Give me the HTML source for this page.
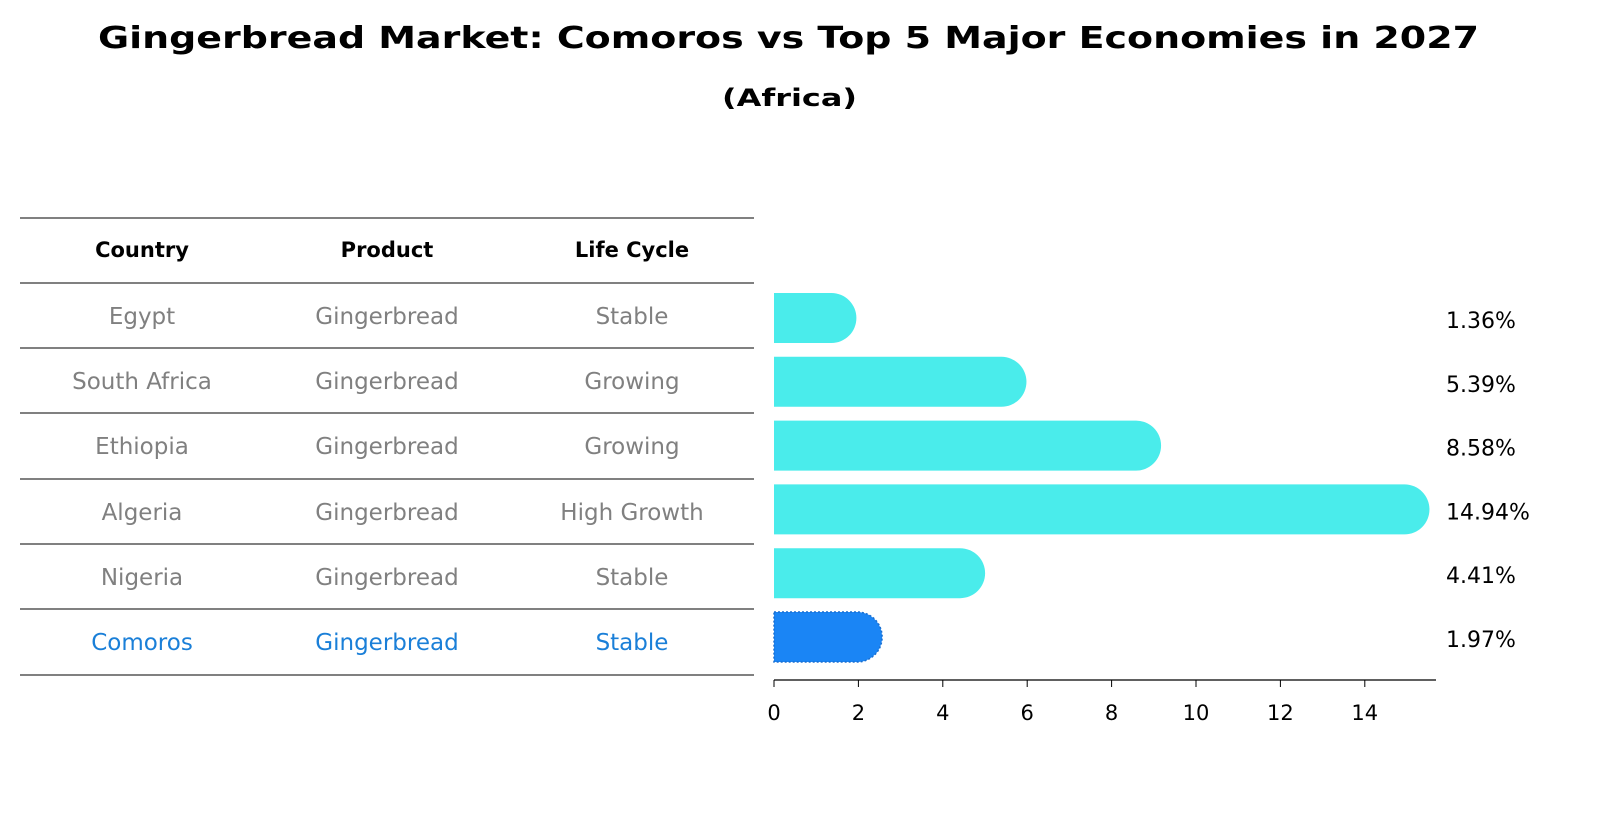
<!DOCTYPE html>
<html><head><meta charset="utf-8"><style>
body{margin:0;width:1604px;height:823px;background:#fff;font-family:"DejaVu Sans","Liberation Sans",sans-serif;overflow:hidden}
svg text{font-family:"DejaVu Sans","Liberation Sans",sans-serif}
</style></head><body>
<svg width="1604" height="823" id="svg">
<text x="98" y="48" font-size="30" font-weight="bold" textLength="1381" lengthAdjust="spacingAndGlyphs">Gingerbread Market: Comoros vs Top 5 Major Economies in 2027</text>
<text x="722" y="106" font-size="24" font-weight="bold" textLength="135" lengthAdjust="spacingAndGlyphs">(Africa)</text>
<g id="table"></g>
<g id="bars"></g>
<g id="axis"></g>
</svg>
<script>
const countries=["Egypt","South Africa","Ethiopia","Algeria","Nigeria","Comoros"];
const products=["Gingerbread","Gingerbread","Gingerbread","Gingerbread","Gingerbread","Gingerbread"];
const stages=["Stable","Growing","Growing","High Growth","Stable","Stable"];
const values=[1.36,5.39,8.58,14.94,4.41,1.97];
const ticks=[0,2,4,6,8,10,12,14];
const NS="http://www.w3.org/2000/svg";
function mk(t,a,p){const e=document.createElementNS(NS,t);for(const k in a)e.setAttribute(k,a[k]);p.appendChild(e);return e;}
const tb=document.getElementById('table'),bg=document.getElementById('bars'),ax=document.getElementById('axis');
const x=v=>774+v*42.2;
const rowY=i=>318+i*63.8;
const lineYs=[218,283,348,413,479,544,609,675];
lineYs.forEach(y=>{const l=mk('line',{x1:20,x2:754,y1:y,y2:y,stroke:'#000','stroke-width':1},tb);

});
const cx=[142,387,632];
["Country","Product","Life Cycle"].forEach((h,j)=>{const t=mk('text',{x:cx[j],y:257,'text-anchor':'middle','font-size':21,'font-weight':'bold'},tb);t.textContent=h;

});
countries.forEach((c,i)=>{
 const col=i===countries.length-1?'#1a7fd8':'#808080';
 [c,products[i],stages[i]].forEach((s,j)=>{const t=mk('text',{x:cx[j],y:lineYs[i+1]+41,'text-anchor':'middle','font-size':23,fill:col},tb);t.textContent=s;
 
 });
 const hl=i===countries.length-1;
 const y0=rowY(i)-25,h=50,xe=x(values[i]),r=25;
 const p=mk('path',{d:`M${x(0)},${y0} H${xe} A${r},${r} 0 0 1 ${xe},${y0+h} H${x(0)} Z`,fill:hl?'#1a85f5':'#4aeceb',stroke:hl?'#1a6fd0':'none','stroke-dasharray':hl?'2,2':'none','stroke-width':1.5},bg);
 
 
 const t=mk('text',{x:1446,y:rowY(i)+10,'font-size':22},bg);t.textContent=values[i].toFixed(2)+'%';
 
 
});
const al=mk('line',{x1:774,x2:1436,y1:680,y2:680,stroke:'#000','stroke-width':1.2},ax);


ticks.forEach(v=>{const l=mk('line',{x1:x(v),x2:x(v),y1:680,y2:687,stroke:'#000'},ax);


const t=mk('text',{x:x(v),y:720,'text-anchor':'middle','font-size':21},ax);t.textContent=v;

});
</script>
</body></html>
